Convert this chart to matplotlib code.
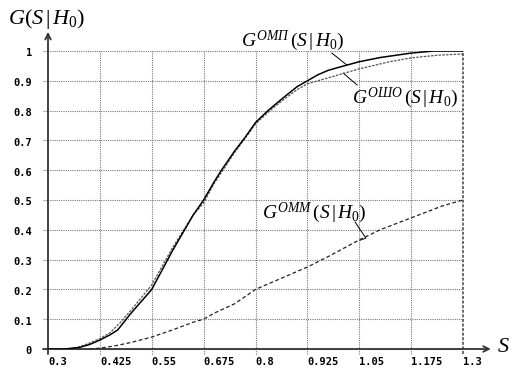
import matplotlib
matplotlib.use("Agg")
import matplotlib.pyplot as plt

plt.rcParams["mathtext.fontset"] = "custom"
plt.rcParams["mathtext.rm"] = "Liberation Serif"
plt.rcParams["mathtext.it"] = "Liberation Serif:italic"

# ---- data ----
x_ticks = [0.3, 0.425, 0.55, 0.675, 0.8, 0.925, 1.05, 1.175, 1.3]
x_labels = ["0.3", "0.425", "0.55", "0.675", "0.8", "0.925", "1.05", "1.175", "1.3"]
y_ticks = [0, 0.1, 0.2, 0.3, 0.4, 0.5, 0.6, 0.7, 0.8, 0.9, 1]
y_labels = ["0", "0.1", "0.2", "0.3", "0.4", "0.5", "0.6", "0.7", "0.8", "0.9", "1"]

s_omp = [0.30, 0.34, 0.375, 0.40, 0.425, 0.45, 0.468, 0.50, 0.525, 0.55, 0.575,
         0.60, 0.625, 0.65, 0.675, 0.70, 0.718, 0.75, 0.775, 0.80, 0.83, 0.866,
         0.90, 0.925, 0.95, 0.975, 1.0, 1.05, 1.10, 1.175, 1.23, 1.3]
g_omp = [0.0, 0.0, 0.005, 0.015, 0.03, 0.048, 0.064, 0.12, 0.16, 0.20, 0.265,
         0.33, 0.39, 0.45, 0.50, 0.56, 0.60, 0.665, 0.71, 0.76, 0.80, 0.842,
         0.88, 0.90, 0.92, 0.935, 0.945, 0.964, 0.978, 0.993, 1.0, 1.0]

s_osho = [0.30, 0.35, 0.375, 0.40, 0.425, 0.45, 0.475, 0.50, 0.55, 0.60, 0.65,
          0.675, 0.70, 0.75, 0.80, 0.835, 0.866, 0.90, 0.925, 0.975, 1.0, 1.05,
          1.12, 1.175, 1.24, 1.3]
g_osho = [0.0, 0.0, 0.007, 0.02, 0.035, 0.055, 0.09, 0.13, 0.215, 0.34, 0.45,
          0.49, 0.555, 0.66, 0.755, 0.80, 0.835, 0.87, 0.89, 0.91, 0.92, 0.94,
          0.963, 0.977, 0.986, 0.99]

s_omm = [0.40, 0.425, 0.45, 0.47, 0.50, 0.55, 0.60, 0.65, 0.675, 0.70, 0.75,
         0.80, 0.85, 0.90, 0.925, 0.975, 1.05, 1.10, 1.175, 1.25, 1.3]
g_omm = [0.0, 0.003, 0.008, 0.013, 0.022, 0.04, 0.064, 0.09, 0.10, 0.12, 0.152,
         0.20, 0.23, 0.26, 0.275, 0.31, 0.366, 0.40, 0.44, 0.48, 0.50]

W, H = 524, 372
fig = plt.figure(figsize=(W / 100, H / 100), dpi=100)
# axes box: S=0.3 at px 48, S=1.3 at px 463; G=0 at px 349, G=1 at px 51
ax = fig.add_axes([48 / W, 1 - 349 / H, (463 - 48) / W, (349 - 51) / H])
ax.set_xlim(0.3, 1.3)
ax.set_ylim(0, 1)
for sp in ax.spines.values():
    sp.set_visible(False)
ax.set_xticks([])
ax.set_yticks([])

# dotted grid, slightly sticking out past the axes like the original
ext_x = 5 / 415
ext_y = 5 / 298
for y in y_ticks:
    ax.plot([0.3 - ext_x, 1.3], [y, y], color="#777777", lw=0.8,
            ls=(0, (1, 1)), clip_on=False, zorder=1)
for x in x_ticks[1:-1]:
    ax.plot([x, x], [-ext_y, 1], color="#777777", lw=0.8,
            ls=(0, (1, 1)), clip_on=False, zorder=1)
ax.plot([1.3, 1.3], [-ext_y, 1], color="#444444", lw=1.1,
        ls=(0, (2, 1)), clip_on=False, zorder=2)

# axes with arrows
ax.annotate("", xy=(1.367, 0), xytext=(0.3 - ext_x, 0), xycoords="data",
            arrowprops=dict(arrowstyle="->", lw=1.3, color="#333333",
                            shrinkA=0, shrinkB=0), annotation_clip=False)
ax.annotate("", xy=(0.3, 1.064), xytext=(0.3, -ext_y), xycoords="data",
            arrowprops=dict(arrowstyle="->", lw=1.3, color="#333333",
                            shrinkA=0, shrinkB=0), annotation_clip=False)

# curves
ax.plot(s_omm, g_omm, color="#222222", lw=0.9, ls=(0, (3, 2)), zorder=3)
ax.plot(s_osho, g_osho, color="#555555", lw=0.9, ls=(0, (2, 1)), zorder=3)
ax.plot(s_omp, g_omp, color="black", lw=1.1, zorder=4)

# tick labels
tick_font = dict(family="DejaVu Sans Mono", fontweight="bold", fontsize=7.5)
for x, lab in zip(x_ticks, x_labels):
    ax.text(x, -0.045, lab, ha="left", va="center", **tick_font)
for y, lab in zip(y_ticks, y_labels):
    ax.text(0.3 - 16 / 415, y - 0.008, lab, ha="right", va="center", **tick_font)

# axis titles
fig.text(8 / W, 1 - 19 / H, r"$G(S\,|\,H_0)$", fontsize=16, ha="left", va="center")
fig.text(497 / W, 1 - 346 / H, r"$S$", fontsize=16, ha="left", va="center")

# curve labels and leader lines
lab_size = 14
fig.text(241 / W, 1 - 41 / H, r"$G^{ОМП}\,(S\,|\,H_0)$", fontsize=lab_size,
         ha="left", va="center")
ax.plot([0.984, 1.020], [0.993, 0.953], color="black", lw=0.7, clip_on=False)

fig.text(352 / W, 1 - 98 / H, r"$G^{ОШО}\,(S\,|\,H_0)$", fontsize=lab_size,
         ha="left", va="center")
ax.plot([1.011, 1.045], [0.926, 0.886], color="black", lw=0.7, clip_on=False)

fig.text(262 / W, 1 - 213 / H, r"$G^{ОММ}\,(S\,|\,H_0)$", fontsize=lab_size,
         ha="left", va="center")
ax.plot([1.04, 1.066, 1.052], [0.426, 0.372, 0.365], color="black", lw=0.7,
        clip_on=False)

fig.savefig("out.png", dpi=100, facecolor="white")
